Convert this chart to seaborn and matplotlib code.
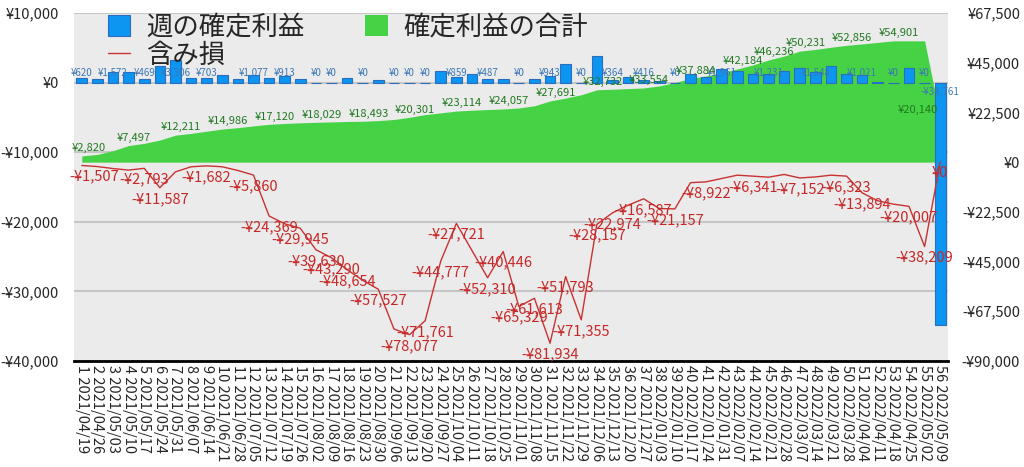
import numpy as np
import pandas as pd
import matplotlib
matplotlib.use("Agg")
import matplotlib.pyplot as plt
import seaborn as sns
from matplotlib.patches import Patch
from matplotlib.lines import Line2D

# ---------------- data ----------------
week_dates = [
    "2021/04/19", "2021/04/26", "2021/05/03", "2021/05/10", "2021/05/17", "2021/05/24",
    "2021/05/31", "2021/06/07", "2021/06/14", "2021/06/21", "2021/06/28", "2021/07/05",
    "2021/07/12", "2021/07/19", "2021/07/26", "2021/08/02", "2021/08/09", "2021/08/16",
    "2021/08/23", "2021/08/30", "2021/09/06", "2021/09/13", "2021/09/20", "2021/09/27",
    "2021/10/04", "2021/10/11", "2021/10/18", "2021/10/25", "2021/11/01", "2021/11/08",
    "2021/11/15", "2021/11/22", "2021/11/29", "2021/12/06", "2021/12/13", "2021/12/20",
    "2021/12/27", "2022/01/03", "2022/01/10", "2022/01/17", "2022/01/24", "2022/01/31",
    "2022/02/07", "2022/02/14", "2022/02/21", "2022/02/28", "2022/03/07", "2022/03/14",
    "2022/03/21", "2022/03/28", "2022/04/04", "2022/04/11", "2022/04/18", "2022/04/25",
    "2022/05/02", "2022/05/09",
]
week_numbers = list(range(1, 57))

weekly_profit = [
    620, 480, 1572, 1550, 469, 2400, 3306, 700, 703, 1150,
    500, 1077, 600, 913, 500, 0, 0, 700, 0, 400,
    0, 0, 0, 1700, 859, 1300, 487, 500, 0, 500,
    943, 2670, 0, 3770, 364, 860, 416, 300, 0, 1300,
    850, 1961, 1600, 1200, 1231, 1600, 2150, 1548, 2450, 1250,
    1021, 120, 0, 2100, 0, -34761,
]

cumulative_profit = [
    2820, 3500, 5200, 7497, 8500, 10000, 12211, 13000, 14000, 14986,
    15600, 16400, 17120, 17500, 17800, 18029, 18200, 18400, 18493, 18800,
    19300, 20301, 21500, 22300, 23114, 23500, 23800, 24057, 24500, 25500,
    27691, 29000, 30500, 32732, 33000, 33300, 33554, 34500, 36000, 37884,
    39000, 40500, 42184, 44000, 46236, 48000, 50231, 51000, 52000, 52856,
    53500, 54200, 54901, 54901, 54901, 20140,
]

unrealized_loss = [
    -1507, -2000, -2900, -3600, -2793, -11587, -4400, -2100, -1682, -2100,
    -3770, -5860, -24369, -27900, -29945, -39630, -43290, -48654, -53500, -57527,
    -75500, -78077, -71761, -44777, -27721, -40000, -52310, -40446, -65329, -61613,
    -81934, -51793, -71355, -28157, -22974, -19500, -16587, -21000, -21157, -9300,
    -8922, -7400, -5900, -6341, -6800, -5580, -7152, -6700, -5900, -6323,
    -13894, -17500, -19000, -20007, -38209, 0,
]

# weeks (1-based) whose value label is visible in the chart
bar_label_weeks = [1, 3, 5, 7, 9, 12, 14, 16, 17, 19, 21, 22, 23, 25, 27, 29, 31, 33,
                   35, 37, 39, 42, 45, 48, 51, 53, 55, 56]
cum_label_weeks = [1, 4, 7, 10, 13, 16, 19, 22, 25, 28, 31, 34, 37, 40, 43, 45, 47,
                   50, 53, 56]
loss_label_weeks = [1, 5, 6, 9, 12, 13, 15, 16, 17, 18, 20, 22, 23, 24, 25, 27, 28,
                    29, 30, 31, 32, 33, 34, 35, 37, 39, 41, 44, 47, 50, 51, 54, 55, 56]

legend_labels = ["週の確定利益", "含み損", "確定利益の合計"]

# ---------------- style ----------------
BLUE = "#0d95f2"
BLUE_EDGE = "#2a6ebd"
BLUE_TEXT = "#3a78b5"
GREEN = "#45d245"
GREEN_TEXT = "#217a21"
RED = "#c83232"
RED_TEXT = "#c62828"
BG = "#ebebeb"

sns.set_style("white")
plt.rcParams["font.family"] = ["Noto Sans CJK JP", "DejaVu Sans"]


def yen(v):
    v = int(round(v))
    return ("-" if v < 0 else "") + "¥" + f"{abs(v):,}"


W, H = 1024, 467
L, R, T, B = 74, 948, 13, 361
fig = plt.figure(figsize=(W / 100, H / 100), dpi=100)
ax = fig.add_axes([L / W, 1 - B / H, (R - L) / W, (B - T) / H])
ax.set_facecolor(BG)
axg = ax.twinx()   # cumulative area (right scale)
axb = ax.twinx()   # weekly bars (left scale)
axl = ax.twinx()   # unrealized loss line (right scale)

x = np.arange(len(week_numbers))

# cumulative area
axg.fill_between(x, 0, cumulative_profit, color=GREEN, lw=0)

# weekly bars
df = pd.DataFrame({"week": x, "profit": weekly_profit})
sns.barplot(data=df, x="week", y="profit", ax=axb, color=BLUE, saturation=1,
            width=0.68, edgecolor=BLUE_EDGE, linewidth=0.8)

# unrealized loss line
sns.lineplot(x=x, y=unrealized_loss, ax=axl, color=RED, lw=1)

LEFT_LIM = (-40000, 10000)
RIGHT_LIM = (-90000, 67500)
for a in (ax, axb):
    a.set_ylim(*LEFT_LIM)
for a in (axg, axl):
    a.set_ylim(*RIGHT_LIM)

# labels: weekly bars
for w in bar_label_weeks:
    i = w - 1
    v = weekly_profit[i]
    if v >= 0:
        axb.annotate(yen(v), (i, 0), xytext=(0, 3), textcoords="offset points",
                     ha="center", va="bottom", fontsize=7, color=BLUE_TEXT)
    else:
        axb.annotate(yen(v), (i, 0), xytext=(0, -3), textcoords="offset points",
                     ha="center", va="top", fontsize=7, color=BLUE_TEXT)

# labels: cumulative
n = len(week_numbers)
for w in cum_label_weeks:
    i = w - 1
    v = cumulative_profit[i]
    if i == 0:
        axl.annotate(yen(v), (-0.5, v), xytext=(-2, 2), textcoords="offset points",
                     ha="left", va="bottom", fontsize=8, color=GREEN_TEXT)
    elif i == n - 1:
        axl.annotate(yen(v), (i, v), xytext=(-2, 2), textcoords="offset points",
                     ha="right", va="bottom", fontsize=8, color=GREEN_TEXT)
    else:
        axl.annotate(yen(v), (i, v), xytext=(4, 2), textcoords="offset points",
                     ha="center", va="bottom", fontsize=8, color=GREEN_TEXT)

# labels: unrealized loss
for w in loss_label_weeks:
    i = w - 1
    v = unrealized_loss[i]
    if i == 0:
        axl.annotate(yen(v), (-0.5, v), xytext=(-3, -3), textcoords="offset points",
                     ha="left", va="top", fontsize=10.5, color=RED_TEXT)
    else:
        axl.annotate(yen(v), (i, v), xytext=(0, -3), textcoords="offset points",
                     ha="center", va="top", fontsize=10.5, color=RED_TEXT)

# axes cosmetics
for a in (ax, axg, axb, axl):
    for s in a.spines.values():
        s.set_visible(False)
    a.set_xlabel("")
    a.set_ylabel("")
ax.spines["bottom"].set_visible(True)
ax.spines["bottom"].set_color("black")
ax.spines["bottom"].set_linewidth(2)

axb.yaxis.set_visible(False)
axl.yaxis.set_visible(False)

ax.set_yticks(np.arange(-40000, 10001, 10000))
ax.set_yticklabels([yen(v) for v in np.arange(-40000, 10001, 10000)])
ax.grid(axis="y", color="#c6c6c6", lw=1.5)
ax.grid(axis="x", visible=False)
ax.tick_params(axis="y", length=0, pad=11, labelsize=10.5)

rt = np.arange(-90000, 67501, 22500)
axg.set_yticks(rt)
axg.set_yticklabels([yen(v) for v in rt])
axg.tick_params(axis="y", length=0, pad=52, labelsize=10.5)
for t in axg.get_yticklabels():
    t.set_horizontalalignment("right")

ax.set_xticks(x)
ax.set_xticklabels([f"{w} {d}" for w, d in zip(week_numbers, week_dates)],
                   rotation=-90, fontsize=10.5)
ax.tick_params(axis="x", length=0, pad=3)
ax.set_xlim(-0.5, n - 0.5)

# legend
handles = [
    Patch(facecolor=BLUE, edgecolor=BLUE_EDGE, lw=0.8),
    Line2D([], [], color=RED, lw=1),
    Patch(facecolor=GREEN, edgecolor="none"),
]
leg = axl.legend(handles, legend_labels, ncol=2, loc="upper left",
                 bbox_to_anchor=(108 / W, 1 - 14 / H), bbox_transform=fig.transFigure,
                 frameon=False, fontsize=19, borderpad=0, borderaxespad=0,
                 handlelength=0.85, handleheight=0.85, handletextpad=0.6,
                 columnspacing=2.3, labelspacing=0.05)

fig.savefig("out.png", dpi=100, facecolor="white")
